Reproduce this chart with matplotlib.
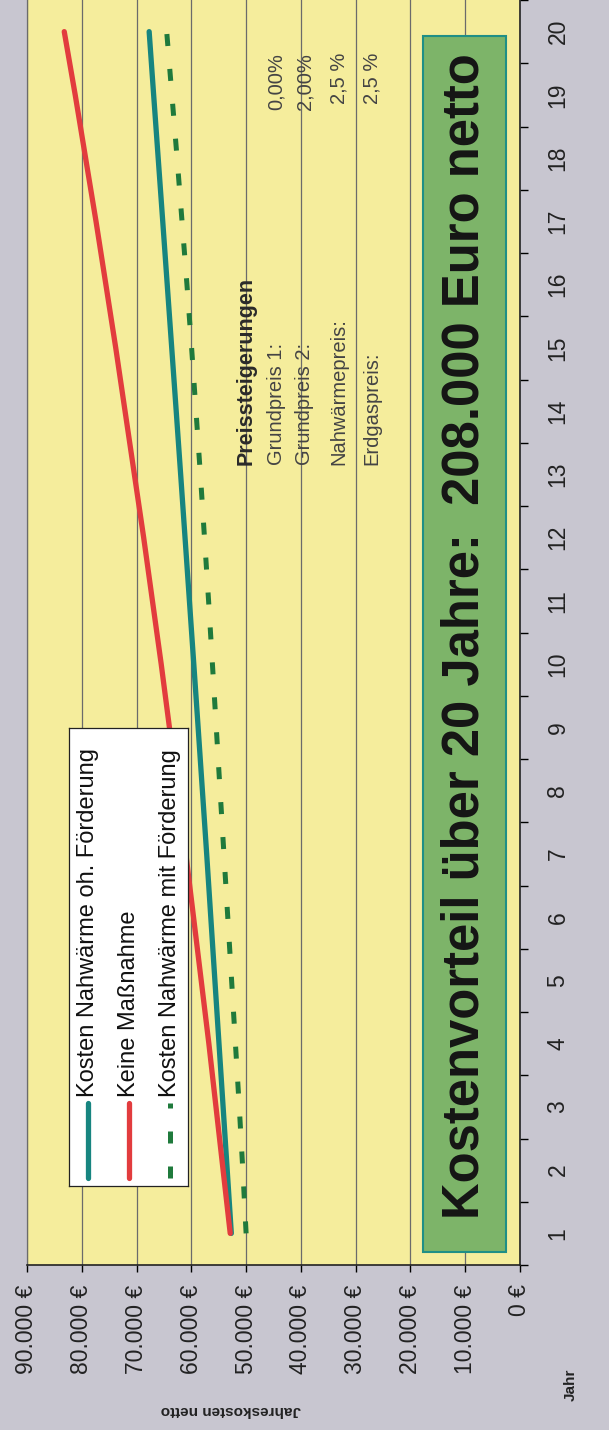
import numpy as np
import matplotlib
matplotlib.use("Agg")
import matplotlib.pyplot as plt
from matplotlib.patches import Rectangle

plt.rcParams['font.family'] = ['Liberation Sans', 'DejaVu Sans']

# data
years = list(range(1, 21))
ohne_foerderung = [52700, 53450, 54200, 54950, 55700, 56450, 57200, 57980, 58760, 59550,
                   60350, 61150, 61950, 62760, 63580, 64400, 65220, 66050, 66880, 67700]
keine_massnahme = [52900, 54200, 55500, 56800, 58200, 59600, 61000, 62500, 64000, 65500,
                   67100, 68700, 70400, 72100, 73800, 75600, 77400, 79300, 81200, 83200]
mit_foerderung = [50000, 50600, 51250, 51950, 52650, 53350, 54050, 54750, 55450, 56150,
                  56850, 57600, 58350, 59150, 59950, 60800, 61700, 62600, 63550, 64500]
value_ticks = list(range(0, 90001, 10000))
value_labels = ["0 €", "10.000 €", "20.000 €", "30.000 €", "40.000 €",
                "50.000 €", "60.000 €", "70.000 €", "80.000 €", "90.000 €"]
legend_labels = ["Kosten Nahwärme oh. Förderung", "Keine Maßnahme",
                 "Kosten Nahwärme mit Förderung"]
price_title = "Preissteigerungen"
price_labels = ["Grundpreis 1:", "Grundpreis 2:", "Nahwärmepreis:", "Erdgaspreis:"]
price_values = ["0,00%", "2,00%", "2,5 %", "2,5 %"]
banner = "Kostenvorteil über 20 Jahre:  208.000 Euro netto"

GRAY = "#c8c6d0"
YELLOW = "#f5ed9c"
RED = "#e23c3e"
TEAL = "#178580"
GREEN = "#1f7a3c"
GRID = "#6b6b6b"

W, H = 609, 1430
fig = plt.figure(figsize=(W / 100, H / 100), dpi=100, facecolor=GRAY)


def fx(px):
    return px / W


def fy(py):
    return 1 - py / H


# the chart is turned by 90 degrees: value axis runs right-to-left, years bottom-to-top
AX_L, AX_R, AX_B = 27, 520, 1265
ax = fig.add_axes([fx(AX_L), fy(AX_B), (AX_R - AX_L) / W, AX_B / H])
ax.set_facecolor(YELLOW)


def axp(px, py):
    return (px - AX_L) / (AX_R - AX_L), (AX_B - py) / AX_B


styles = [
    dict(color=TEAL, lw=3.8, solid_capstyle='round'),
    dict(color=RED, lw=3.8, solid_capstyle='round'),
    dict(color=GREEN, lw=3.6, dashes=(2.4, 4.6), dash_capstyle='butt'),
]
series = [ohne_foerderung, keine_massnahme, mit_foerderung]
for vals, st in zip(series, styles):
    ax.plot(vals, years, zorder=3, **st)

ax.set_xlim(90000, 0)
ax.set_ylim(0.5, 20.5)
ax.set_xticks(value_ticks)
ax.set_xticklabels(value_labels, rotation=90, fontsize=16.5, color="#222222")
ax.tick_params(axis='x', direction='out', length=5, width=1, pad=9)
ax.grid(axis='x', color=GRID, lw=0.9)

ax.yaxis.tick_right()
ax.set_yticks(years)
ax.set_yticklabels([str(y) for y in years], rotation=90, fontsize=16.5,
                   va='center', color="#222222")
ax.set_yticks(np.arange(0.5, 21, 1), minor=True)
ax.tick_params(axis='y', which='major', length=0, pad=19)
ax.tick_params(axis='y', which='minor', length=6, width=1, direction='out')

for s in ['bottom', 'right']:
    ax.spines[s].set_color('#222222')
    ax.spines[s].set_linewidth(1.2)
ax.spines['left'].set_color(GRID)
ax.spines['left'].set_linewidth(0.9)
ax.spines['top'].set_visible(False)

# banner
bx0, by0 = axp(423, 1252)
bx1, by1 = axp(506, 36)
ax.add_patch(Rectangle((bx0, by0), bx1 - bx0, by1 - by0, transform=ax.transAxes,
                       facecolor="#7db469", edgecolor="#1f8f86", lw=1.5, zorder=4))
tx, ty = axp(465, 636)
ax.text(tx, ty, banner, transform=ax.transAxes, rotation=90, ha='center', va='center',
        fontsize=36.5, fontweight='bold', color="#151515", zorder=5)

# price increase notes
tx, ty = axp(246, 465)
ax.text(tx, ty, price_title, transform=ax.transAxes, rotation=90, ha='center',
        va='bottom', fontsize=15.5, fontweight='bold', color="#2a2a2a", zorder=5)
for px, lab, val in zip([276, 305, 339, 372], price_labels, price_values):
    tx, ty = axp(px, 465)
    ax.text(tx, ty, lab, transform=ax.transAxes, rotation=90, ha='center',
            va='bottom', fontsize=14.5, color="#444444", zorder=5)
    tx, ty = axp(px, 53)
    ax.text(tx, ty, val, transform=ax.transAxes, rotation=90, ha='center',
            va='top', fontsize=14.5, color="#444444", zorder=5)

# axis titles
fig.text(fx(571), fy(1385), "Jahr", rotation=90, ha='center', va='center',
         fontsize=11, fontweight='bold', color="#222222")
fig.text(fx(231), fy(1410), "Jahreskosten netto", rotation=180, ha='center',
         va='center', fontsize=11, fontweight='bold', color="#222222")

# legend, drawn by hand because it is turned as well
LG_L, LG_R, LG_T, LG_B = 69, 188, 728, 1186
lg = fig.add_axes([fx(LG_L), fy(LG_B), (LG_R - LG_L) / W, (LG_B - LG_T) / H])
lg.set_xlim(LG_L, LG_R)
lg.set_ylim(LG_B, LG_T)
lg.set_facecolor("white")
lg.set_xticks([])
lg.set_yticks([])
for s in lg.spines.values():
    s.set_linewidth(0.9)
    s.set_color("#222222")
for px, lab, st in zip([88, 129, 170], legend_labels, styles):
    lg.plot([px, px], [1178, 1103], **st)
    lg.text(px, 1097, lab, rotation=90, ha='center', va='bottom', fontsize=17,
            color="#111111")

fig.savefig("out.png", dpi=100, facecolor=GRAY)
